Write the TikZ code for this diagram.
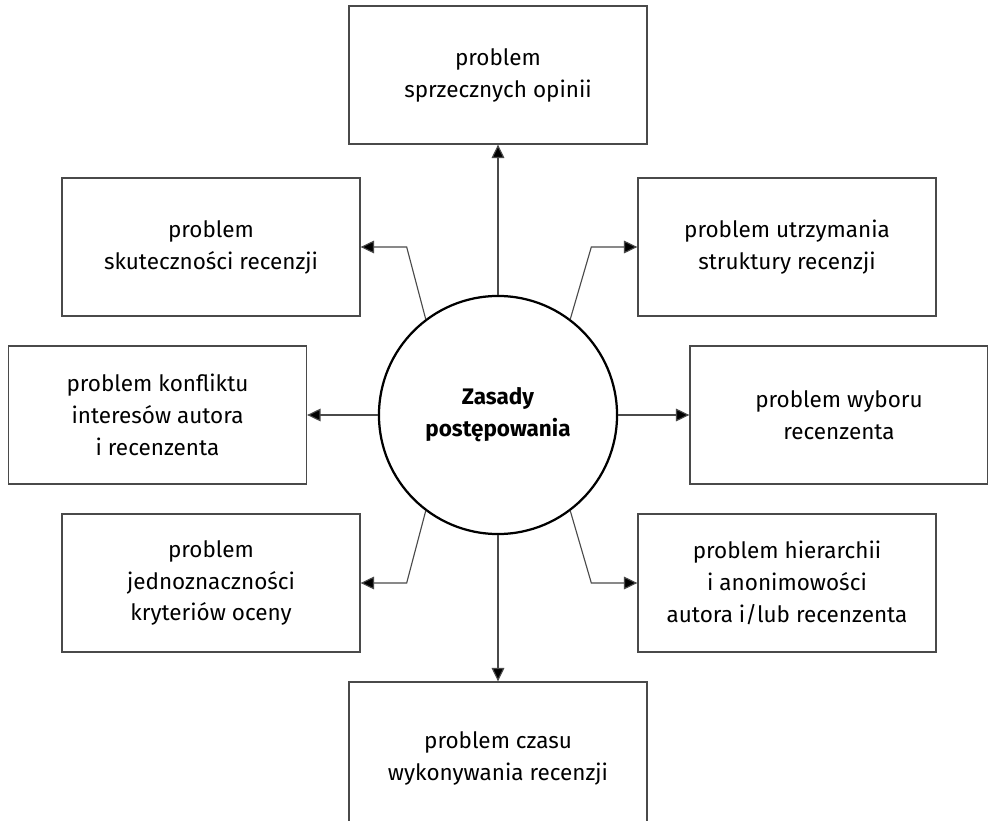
\documentclass[tikz,border=0pt]{standalone}
\usepackage{fontspec}
\setmainfont{Fira Sans}
\usetikzlibrary{arrows.meta, positioning, calc}
\definecolor{boxLine}{HTML}{4A4A4A}

\begin{document}
\begin{tikzpicture}[x=0.025cm, y=-0.025cm]
        % Styles
        \tikzstyle{problem} = [rectangle, minimum width=7.45cm, minimum height=3.45cm, align=center, draw=boxLine, line width=0.9pt, font=\fontsize{16}{22.7}\selectfont, text=black]
        \tikzstyle{core} = [circle, minimum size=5.95cm, align=center, draw=black, line width=1.6pt, font=\fontsize{16}{22.7}\selectfont\bfseries]
        \tikzstyle{arrow} = [line width=0.8pt, draw=boxLine, -{Triangle[length=9.5pt, width=9pt, fill=black]}]

        \useasboundingbox (0,0) rectangle (988,821);

        % Nodes
        \node (core) [core] at (498,415) {Zasady\\postępowania};

        \node (top) [problem] at (498,75) {problem\\sprzecznych opinii};
        \node (tl) [problem] at (211,247) {problem\\skuteczności recenzji};
        \node (tr) [problem] at (787,247) {problem utrzymania\\struktury recenzji};
        \node (ml) [problem] at (157.5,415) {problem konfliktu\\interesów autora\\i recenzenta};
        \node (mr) [problem] at (839,415) {problem wyboru\\recenzenta};
        \node (bl) [problem] at (211,583) {problem\\jednoznaczności\\kryteriów oceny};
        \node (br) [problem] at (787,583) {problem hierarchii\\i anonimowości\\autora i/lub recenzenta};
        \node (bot) [problem, minimum height=3.8cm] at (498,758) {problem czasu\\wykonywania recenzji};

        % Arrows
        \draw [arrow] (core) -- (top);
        \draw [arrow] (core) -- (bot);
        \draw [arrow] (core) -- (ml);
        \draw [arrow] (core) -- (mr);

        \draw [arrow] (core.127) -- ($(tl.east)+(46,0)$) -- (tl.east);
        \draw [arrow] (core.53) -- ($(tr.west)+(-46,0)$) -- (tr.west);
        \draw [arrow] (core.233) -- ($(bl.east)+(46,0)$) -- (bl.east);
        \draw [arrow] (core.307) -- ($(br.west)+(-46,0)$) -- (br.west);

    \end{tikzpicture}
\end{document}
